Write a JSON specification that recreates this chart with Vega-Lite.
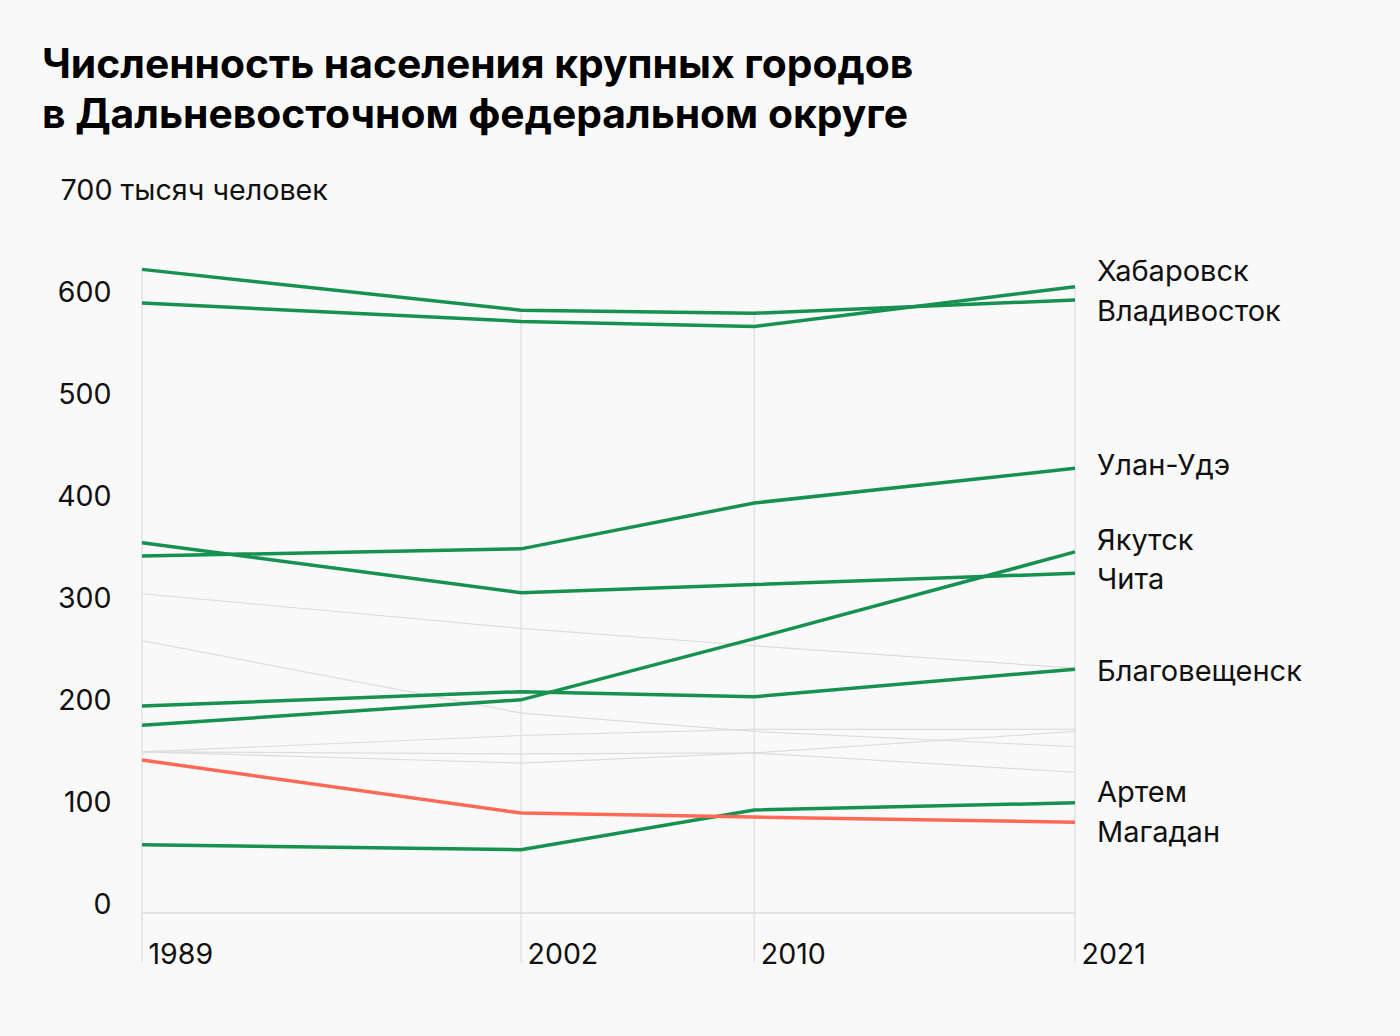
{
  "$schema": "https://vega.github.io/schema/vega-lite/v6.json",
  "width": 933,
  "height": 714,
  "autosize": {"type": "none"},
  "padding": {"left": 142, "top": 199, "right": 325, "bottom": 123},
  "background": "#f9f9f9",
  "config": {
    "font": "Inter",
    "view": {"stroke": null},
    "axis": {"labelColor": "#111111", "titleColor": "#111111"}
  },
  "title": {
    "text": ["Численность населения крупных городов", "в Дальневосточном федеральном округе"],
    "anchor": "start",
    "frame": "group",
    "dx": -100,
    "fontSize": 40.8,
    "fontWeight": "bold",
    "lineHeight": 50,
    "color": "#000000",
    "offset": 39
  },
  "data": {
    "values": [
      {"city": "Хабаровск", "group": "main", "year": 1989, "value": 598},
      {"city": "Хабаровск", "group": "main", "year": 2002, "value": 580},
      {"city": "Хабаровск", "group": "main", "year": 2010, "value": 575},
      {"city": "Хабаровск", "group": "main", "year": 2021, "value": 614},
      {"city": "Владивосток", "group": "main", "year": 1989, "value": 631},
      {"city": "Владивосток", "group": "main", "year": 2002, "value": 591},
      {"city": "Владивосток", "group": "main", "year": 2010, "value": 588},
      {"city": "Владивосток", "group": "main", "year": 2021, "value": 601},
      {"city": "Улан-Удэ", "group": "main", "year": 1989, "value": 350},
      {"city": "Улан-Удэ", "group": "main", "year": 2002, "value": 357},
      {"city": "Улан-Удэ", "group": "main", "year": 2010, "value": 402},
      {"city": "Улан-Удэ", "group": "main", "year": 2021, "value": 436},
      {"city": "Чита", "group": "main", "year": 1989, "value": 363},
      {"city": "Чита", "group": "main", "year": 2002, "value": 314},
      {"city": "Чита", "group": "main", "year": 2010, "value": 322},
      {"city": "Чита", "group": "main", "year": 2021, "value": 333},
      {"city": "Якутск", "group": "main", "year": 1989, "value": 184},
      {"city": "Якутск", "group": "main", "year": 2002, "value": 209},
      {"city": "Якутск", "group": "main", "year": 2010, "value": 269},
      {"city": "Якутск", "group": "main", "year": 2021, "value": 354},
      {"city": "Благовещенск", "group": "main", "year": 1989, "value": 203},
      {"city": "Благовещенск", "group": "main", "year": 2002, "value": 217},
      {"city": "Благовещенск", "group": "main", "year": 2010, "value": 212},
      {"city": "Благовещенск", "group": "main", "year": 2021, "value": 239},
      {"city": "Артем", "group": "main", "year": 1989, "value": 67},
      {"city": "Артем", "group": "main", "year": 2002, "value": 62},
      {"city": "Артем", "group": "main", "year": 2010, "value": 101},
      {"city": "Артем", "group": "main", "year": 2021, "value": 108},
      {"city": "Магадан", "group": "highlight", "year": 1989, "value": 150},
      {"city": "Магадан", "group": "highlight", "year": 2002, "value": 98},
      {"city": "Магадан", "group": "highlight", "year": 2010, "value": 94},
      {"city": "Магадан", "group": "highlight", "year": 2021, "value": 89},
      {"city": "Комсомольск-на-Амуре", "group": "other", "year": 1989, "value": 313},
      {"city": "Комсомольск-на-Амуре", "group": "other", "year": 2002, "value": 279},
      {"city": "Комсомольск-на-Амуре", "group": "other", "year": 2010, "value": 262},
      {"city": "Комсомольск-на-Амуре", "group": "other", "year": 2021, "value": 240},
      {"city": "Петропавловск-Камчатский", "group": "other", "year": 1989, "value": 267},
      {"city": "Петропавловск-Камчатский", "group": "other", "year": 2002, "value": 196},
      {"city": "Петропавловск-Камчатский", "group": "other", "year": 2010, "value": 178},
      {"city": "Петропавловск-Камчатский", "group": "other", "year": 2021, "value": 163},
      {"city": "Южно-Сахалинск", "group": "other", "year": 1989, "value": 158},
      {"city": "Южно-Сахалинск", "group": "other", "year": 2002, "value": 174},
      {"city": "Южно-Сахалинск", "group": "other", "year": 2010, "value": 180},
      {"city": "Южно-Сахалинск", "group": "other", "year": 2021, "value": 180},
      {"city": "Уссурийск", "group": "other", "year": 1989, "value": 158},
      {"city": "Уссурийск", "group": "other", "year": 2002, "value": 156},
      {"city": "Уссурийск", "group": "other", "year": 2010, "value": 157},
      {"city": "Уссурийск", "group": "other", "year": 2021, "value": 178},
      {"city": "Находка", "group": "other", "year": 1989, "value": 158},
      {"city": "Находка", "group": "other", "year": 2002, "value": 147},
      {"city": "Находка", "group": "other", "year": 2010, "value": 157},
      {"city": "Находка", "group": "other", "year": 2021, "value": 138}
    ]
  },
  "encoding": {
    "x": {
      "field": "year",
      "type": "quantitative",
      "scale": {"domain": [1989, 2021], "nice": false, "zero": false},
      "axis": {
        "values": [1989, 2002, 2010, 2021],
        "format": "d",
        "title": null,
        "grid": false,
        "ticks": false,
        "domain": false,
        "labelFontSize": 28.5,
        "labelAlign": "left",
        "labelBaseline": "alphabetic",
        "labelPadding": 50,
        "labelOffset": 6,
        "labelFlush": false
      }
    },
    "y": {
      "field": "value",
      "type": "quantitative",
      "scale": {"domain": [0, 700], "nice": false},
      "axis": {
        "values": [0, 100, 200, 300, 400, 500, 600],
        "title": "700 тысяч человек",
        "titleAngle": 0,
        "titleAlign": "left",
        "titleBaseline": "alphabetic",
        "titleX": -82,
        "titleY": 0,
        "titleFontSize": 28.7,
        "titleFontWeight": "normal",
        "grid": false,
        "ticks": false,
        "domain": false,
        "labelFontSize": 28.5,
        "labelAlign": "right",
        "labelBaseline": "alphabetic",
        "labelPadding": 31,
        "labelFlush": false
      }
    }
  },
  "layer": [
    {
      "transform": [{"aggregate": [{"op": "max", "field": "value", "as": "top"}], "groupby": ["year"]}],
      "mark": {"type": "rule", "color": "#e2e2e2", "strokeWidth": 1.5},
      "encoding": {
        "y": {"field": "top", "type": "quantitative"},
        "y2": {"datum": -49}
      }
    },
    {
      "mark": {"type": "rule", "color": "#e2e2e2", "strokeWidth": 1.5},
      "encoding": {
        "x": {"datum": 1989},
        "x2": {"datum": 2021},
        "y": {"datum": 0}
      }
    },
    {
      "transform": [{"filter": "datum.group === 'other'"}],
      "mark": {"type": "line", "color": "#dcdcdc", "strokeWidth": 1.2},
      "encoding": {"detail": {"field": "city"}}
    },
    {
      "transform": [{"filter": "datum.group === 'main'"}],
      "mark": {"type": "line", "color": "#179150", "strokeWidth": 3.5},
      "encoding": {"detail": {"field": "city"}}
    },
    {
      "transform": [{"filter": "datum.group === 'highlight'"}],
      "mark": {"type": "line", "color": "#ff6a57", "strokeWidth": 3.5},
      "encoding": {"detail": {"field": "city"}}
    },
    {
      "transform": [{"filter": "datum.year === 2021 && datum.group !== 'other'"}],
      "mark": {
        "type": "text",
        "align": "left",
        "baseline": "middle",
        "dx": 22,
        "dy": {"expr": "datum.city === 'Хабаровск' ? -15 : datum.city === 'Владивосток' ? 12 : datum.city === 'Улан-Удэ' ? -2 : datum.city === 'Якутск' ? -11 : datum.city === 'Чита' ? 7 : datum.city === 'Благовещенск' ? 3 : datum.city === 'Артем' ? -10 : datum.city === 'Магадан' ? 11 : 0"},
        "fontSize": 29,
        "color": "#111111"
      },
      "encoding": {
        "text": {"field": "city"}
      }
    }
  ]
}
